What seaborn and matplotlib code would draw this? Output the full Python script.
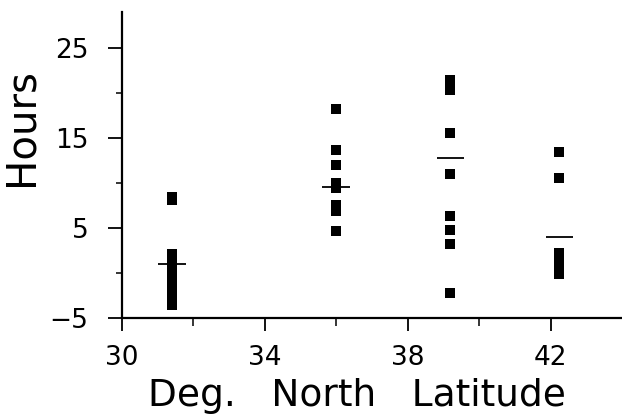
import matplotlib
matplotlib.use("Agg")
import matplotlib.pyplot as plt
import seaborn as sns
import pandas as pd
from matplotlib.ticker import FixedLocator

# Sampling sites (degrees north) and daily hours recorded at each site
latitudes = [31.4, 36.0, 39.2, 42.25]
hours_site1 = [8.5, 8.1, 2.1, 1.8, 1.5, 1.1, 0.7, 0.3, -0.2, -0.7, -1.3, -1.9, -2.5, -3.1, -3.6]
hours_site2 = [18.2, 13.7, 12.0, 10.0, 9.4, 7.6, 6.9, 4.7]
hours_site3 = [21.5, 20.9, 20.3, 15.6, 11.0, 6.3, 4.75, 3.2, -2.2]
hours_site4 = [13.4, 10.6, 2.2, 1.6, 1.0, 0.4, -0.1]
site_means = [1.0, 9.6, 12.8, 4.0]

x_major = [30, 34, 38, 42]
x_minor = [32, 36, 40]
y_major = [-5, 5, 15, 25]
y_minor = [0, 10, 20]

rows = []
for lat, vals in zip(latitudes, [hours_site1, hours_site2, hours_site3, hours_site4]):
    rows += [{"lat": lat, "hours": v} for v in vals]
df = pd.DataFrame(rows)

sns.set_style("ticks")
plt.rcParams["font.family"] = ["DejaVu Sans"]

fig = plt.figure(figsize=(6.22, 4.16), dpi=100)
ax = fig.add_axes([0.1957, 0.2356, 0.8043, 0.7354])

sns.scatterplot(data=df, x="lat", y="hours", marker="s", s=46, color="black",
                edgecolor="black", linewidth=0, ax=ax, legend=False)

half = 0.39
ax.hlines(site_means, [l - half for l in latitudes], [l + half for l in latitudes],
          colors="black", linewidth=1.3, zorder=1)

ax.set_xlim(30, 44)
ax.set_ylim(-5, 29)
ax.xaxis.set_major_locator(FixedLocator(x_major))
ax.xaxis.set_minor_locator(FixedLocator(x_minor))
ax.yaxis.set_major_locator(FixedLocator(y_major))
ax.yaxis.set_minor_locator(FixedLocator(y_minor))

for side in ["top", "right"]:
    ax.spines[side].set_visible(False)
for side in ["left", "bottom"]:
    ax.spines[side].set_linewidth(1.6)
    ax.spines[side].set_color("black")

ax.tick_params(axis="both", which="major", direction="out", width=1.3,
               labelsize=19, colors="black")
ax.tick_params(axis="x", which="major", length=9.5, pad=10)
ax.tick_params(axis="y", which="major", length=10, pad=14)
ax.tick_params(axis="x", which="minor", direction="out", length=6, width=1.3)
ax.tick_params(axis="y", which="minor", direction="out", length=4.5, width=1.3)

ax.set_xlabel("Deg.   North   Latitude", fontsize=27, color="black")
ax.set_ylabel("Hours", fontsize=29, color="black")
ax.yaxis.set_label_coords(-0.16, 0.623)
ax.xaxis.set_label_coords(0.47, -0.195)

fig.savefig("out.png", dpi=100, facecolor="white")
